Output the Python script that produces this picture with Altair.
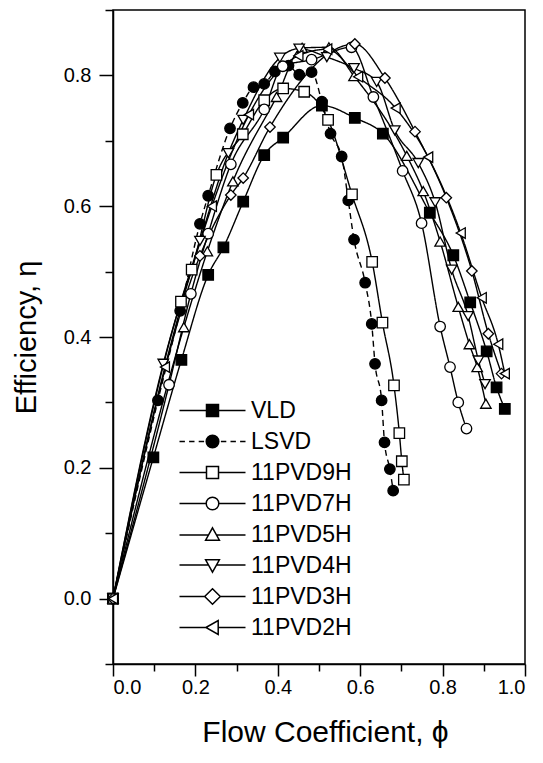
import altair as alt
import pandas as pd

series_names = ["VLD", "LSVD", "11PVD9H", "11PVD7H", "11PVD5H", "11PVD4H", "11PVD3H", "11PVD2H"]

vld_x = [0, 0.098, 0.166, 0.231, 0.268, 0.316, 0.367, 0.413, 0.507, 0.587, 0.655, 0.769, 0.826, 0.867, 0.907, 0.931, 0.951]
vld_y = [0, 0.216, 0.365, 0.495, 0.537, 0.607, 0.678, 0.705, 0.754, 0.735, 0.711, 0.590, 0.525, 0.453, 0.378, 0.323, 0.290]

lsvd_x = [0, 0.109, 0.163, 0.211, 0.231, 0.284, 0.315, 0.341, 0.367, 0.393, 0.426, 0.452, 0.482, 0.507,
          0.528, 0.555, 0.571, 0.585, 0.612, 0.628, 0.636, 0.652, 0.659, 0.672, 0.680]
lsvd_y = [0, 0.303, 0.440, 0.573, 0.616, 0.719, 0.758, 0.782, 0.787, 0.806, 0.815, 0.801, 0.805, 0.760,
          0.711, 0.676, 0.609, 0.549, 0.483, 0.420, 0.359, 0.303, 0.239, 0.198, 0.165]

p9_x = [0, 0.165, 0.191, 0.251, 0.315, 0.367, 0.413, 0.464, 0.522, 0.580, 0.629, 0.654, 0.682, 0.695, 0.701, 0.706]
p9_y = [0, 0.454, 0.503, 0.648, 0.710, 0.762, 0.780, 0.775, 0.732, 0.618, 0.515, 0.422, 0.326, 0.253, 0.210, 0.182]

p7_x = [0, 0.136, 0.189, 0.231, 0.286, 0.367, 0.412, 0.482, 0.579, 0.632, 0.703, 0.749, 0.794, 0.818, 0.838, 0.858]
p7_y = [0, 0.327, 0.466, 0.558, 0.664, 0.748, 0.814, 0.824, 0.843, 0.767, 0.654, 0.574, 0.416, 0.354, 0.300, 0.260]

p5_x = [0, 0.172, 0.229, 0.291, 0.397, 0.459, 0.524, 0.585, 0.713, 0.753, 0.794, 0.838, 0.865, 0.884, 0.905]
p5_y = [0, 0.415, 0.531, 0.638, 0.767, 0.842, 0.843, 0.799, 0.677, 0.623, 0.546, 0.446, 0.389, 0.354, 0.298]

p4_x = [0, 0.122, 0.211, 0.280, 0.316, 0.405, 0.452, 0.519, 0.585, 0.640, 0.684, 0.741, 0.782, 0.822, 0.862, 0.887, 0.903]
p4_y = [0, 0.359, 0.547, 0.681, 0.732, 0.827, 0.841, 0.828, 0.811, 0.790, 0.716, 0.666, 0.606, 0.503, 0.432, 0.364, 0.328]

p3_x = [0, 0.211, 0.286, 0.316, 0.381, 0.587, 0.660, 0.733, 0.809, 0.871, 0.911, 0.943]
p3_y = [0, 0.524, 0.617, 0.643, 0.721, 0.848, 0.796, 0.714, 0.613, 0.501, 0.405, 0.344]

p2_x = [0, 0.126, 0.240, 0.330, 0.450, 0.520, 0.595, 0.686, 0.765, 0.844, 0.895, 0.935, 0.951]
p2_y = [0, 0.354, 0.600, 0.740, 0.830, 0.840, 0.798, 0.750, 0.675, 0.559, 0.460, 0.389, 0.344]

x_major = [0.0, 0.2, 0.4, 0.6, 0.8, 1.0]
x_minor = [0.1, 0.3, 0.5, 0.7, 0.9]
y_major = [0.0, 0.2, 0.4, 0.6, 0.8]
y_minor = [-0.1, 0.1, 0.3, 0.5, 0.7, 0.9]

all_x = [vld_x, lsvd_x, p9_x, p7_x, p5_x, p4_x, p3_x, p2_x]
all_y = [vld_y, lsvd_y, p9_y, p7_y, p5_y, p4_y, p3_y, p2_y]

rows = []
for name, xs_, ys_ in zip(series_names, all_x, all_y):
    for a, b in zip(xs_, ys_):
        rows.append({"series": name, "label": name, "phi": a, "eta": b})
df = pd.DataFrame(rows)

shapes = ["square", "circle", "square", "circle", "triangle-up", "triangle-down", "diamond", "triangle-left"]
fills = ["black", "black", "white", "white", "white", "white", "white", "white"]
strokes = ["black"] * 8
dashes = [[1, 0], [6, 4], [1, 0], [1, 0], [1, 0], [1, 0], [1, 0], [1, 0]]

# legend symbols: line sample + marker
L = "M-5.5,0H-1.05M1.05,0H5.5"
DL = "M-5.5,0H-4.6M-3.9,0H-3.0M-2.3,0H-1.4M1.4,0H2.3M3.0,0H3.9M4.6,0H5.5"
circ = "M1.05,0A1.05,1.05 0 1,1 -1.05,0A1.05,1.05 0 1,1 1.05,0Z"
legend_paths = [
    L + "M-1,-1H1V1H-1Z",
    DL + circ,
    L + "M-1,-1H1V1H-1Z",
    L + circ,
    "M-5.5,0.1H-0.6M0.6,0.1H5.5M0,-1.1L1.15,0.95H-1.15Z",
    "M-5.5,-0.1H-0.6M0.6,-0.1H5.5M0,1.1L1.15,-0.95H-1.15Z",
    "M-5.5,0H-1.3M1.3,0H5.5M0,-1.3L1.3,0L0,1.3L-1.3,0Z",
    "M-5.5,0H-1.1M0.95,0H5.5M-1.1,0L0.95,-1.15V1.15Z",
]

FONT = "Liberation Sans"
xs = alt.Scale(domain=[0, 1.0], nice=False, zero=False)
ys = alt.Scale(domain=[-0.1, 0.9], nice=False, zero=False)

base = alt.Chart(df)

lines = base.mark_line(color="black", strokeWidth=1.4, interpolate="monotone").encode(
    x=alt.X("phi:Q", scale=xs,
            axis=alt.Axis(values=x_major, format=".1f", orient="bottom", tickSize=12,
                          labelPadding=1, title="Flow Coefficient, ϕ", titlePadding=20,
                          titleFontSize=30, titleX=212)),
    y=alt.Y("eta:Q", scale=ys,
            axis=alt.Axis(values=y_major, format=".1f", orient="left", tickSize=14,
                          labelPadding=8, title="Efficiency, η", titlePadding=22)),
    detail="series:N",
    strokeDash=alt.StrokeDash("series:N", scale=alt.Scale(domain=series_names, range=dashes), legend=None),
)

points = base.mark_point(filled=True, stroke="black", strokeWidth=1.3, size=110, opacity=1).encode(
    x=alt.X("phi:Q", scale=xs, axis=None),
    y=alt.Y("eta:Q", scale=ys, axis=None),
    shape=alt.Shape("series:N", scale=alt.Scale(domain=series_names, range=shapes), legend=None),
    fill=alt.Fill("series:N", scale=alt.Scale(domain=series_names, range=fills), legend=None),
)

leg = dict(title=None, orient="none", legendX=88, legendY=389, labelFontSize=23, labelFont=FONT,
           labelColor="black", symbolSize=144, symbolStrokeWidth=1.5,
           symbolOpacity=1, labelOffset=27, rowPadding=7, padding=0)

legend_layer = base.mark_point(filled=True, strokeWidth=1.5, size=144, opacity=0).encode(
    x=alt.X("phi:Q", scale=xs,
            axis=alt.Axis(values=x_minor, labels=False, tickSize=7, domain=False, title=None, orient="bottom")),
    y=alt.Y("eta:Q", scale=ys,
            axis=alt.Axis(values=y_minor, labels=False, tickSize=8, domain=False, title=None, orient="left")),
    shape=alt.Shape("label:N", scale=alt.Scale(domain=series_names, range=legend_paths), legend=alt.Legend(**leg)),
    fill=alt.Fill("label:N", scale=alt.Scale(domain=series_names, range=fills), legend=alt.Legend(**leg)),
    stroke=alt.Stroke("label:N", scale=alt.Scale(domain=series_names, range=strokes), legend=alt.Legend(**leg)),
)

chart = alt.layer(lines, points, legend_layer).resolve_scale(
    shape="independent", fill="independent", strokeDash="independent", stroke="independent"
).resolve_axis(x="independent", y="independent").properties(
    width=412, height=654,
    autosize=alt.AutoSizeParams(type="none"),
    padding={"left": 113, "top": 10, "right": 18, "bottom": 99},
    background="white",
).configure_view(stroke="black", strokeWidth=1.5).configure_axis(
    grid=False, domainColor="black", domainWidth=1.5, tickColor="black", tickWidth=1.5,
    labelColor="black", labelFont=FONT, labelFontSize=20, titleFont=FONT, titleFontSize=29,
    titleFontWeight="normal", titleColor="black",
)

chart.save("out.html", embed_options={"renderer": "svg", "actions": False})
